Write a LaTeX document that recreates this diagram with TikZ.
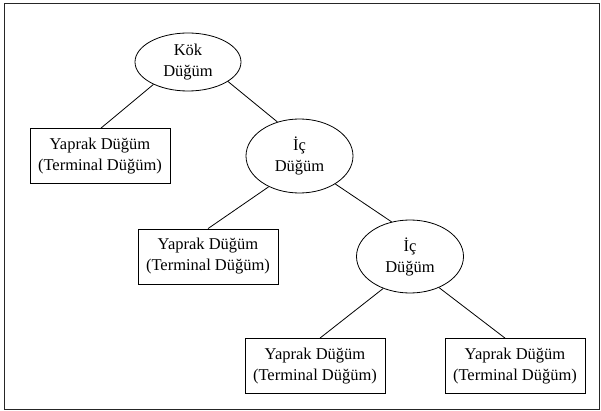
\documentclass[tikz,border=0pt]{standalone}
\usepackage{fontspec}
\setmainfont{Liberation Serif}
\usetikzlibrary{shapes.geometric,calc}
\begin{document}
\begin{tikzpicture}[x=1pt,y=-1pt,
  txt/.style={font=\fontsize{16.5}{21}\selectfont, align=center, draw, line width=0.8pt, inner sep=0pt},
  leafbox/.style={txt, rectangle, minimum width=140pt, minimum height=55pt},
  oval/.style={txt, ellipse, minimum width=107pt, minimum height=74pt},
  link/.style={line width=0.8pt}]
\useasboundingbox (0,0) rectangle (601,411);
\draw[line width=0.9pt, black!85] (4,3) rectangle (599.5,409);

\node[oval, minimum width=106pt, minimum height=58pt] (root) at (188,62) {Kök\\Düğüm};
\node[leafbox] (l1) at (100,156) {Yaprak Düğüm\\(Terminal Düğüm)};
\node[oval] (i1) at (299.5,156) {İç\\Düğüm};
\node[leafbox] (l2) at (208,256.5) {Yaprak Düğüm\\(Terminal Düğüm)};
\node[oval, minimum height=73pt] (i2) at (410,256.5) {İç\\Düğüm};
\node[leafbox] (l3) at (315,366) {Yaprak Düğüm\\(Terminal Düğüm)};
\node[leafbox] (l4) at (515,366) {Yaprak Düğüm\\(Terminal Düğüm)};

\draw[link] (root.213) -- ($(l1.north)+(1,0)$);
\draw[link] (root.-26) -- (i1.123);
\draw[link] (i1.225) -- (l2.north);
\draw[link] (i1.-38) -- (i2.118);
\draw[link] (i2.230) -- ($(l3.north)+(5,0)$);
\draw[link] (i2.-47) -- ($(l4.north)+(-10,0)$);
\end{tikzpicture}
\end{document}
